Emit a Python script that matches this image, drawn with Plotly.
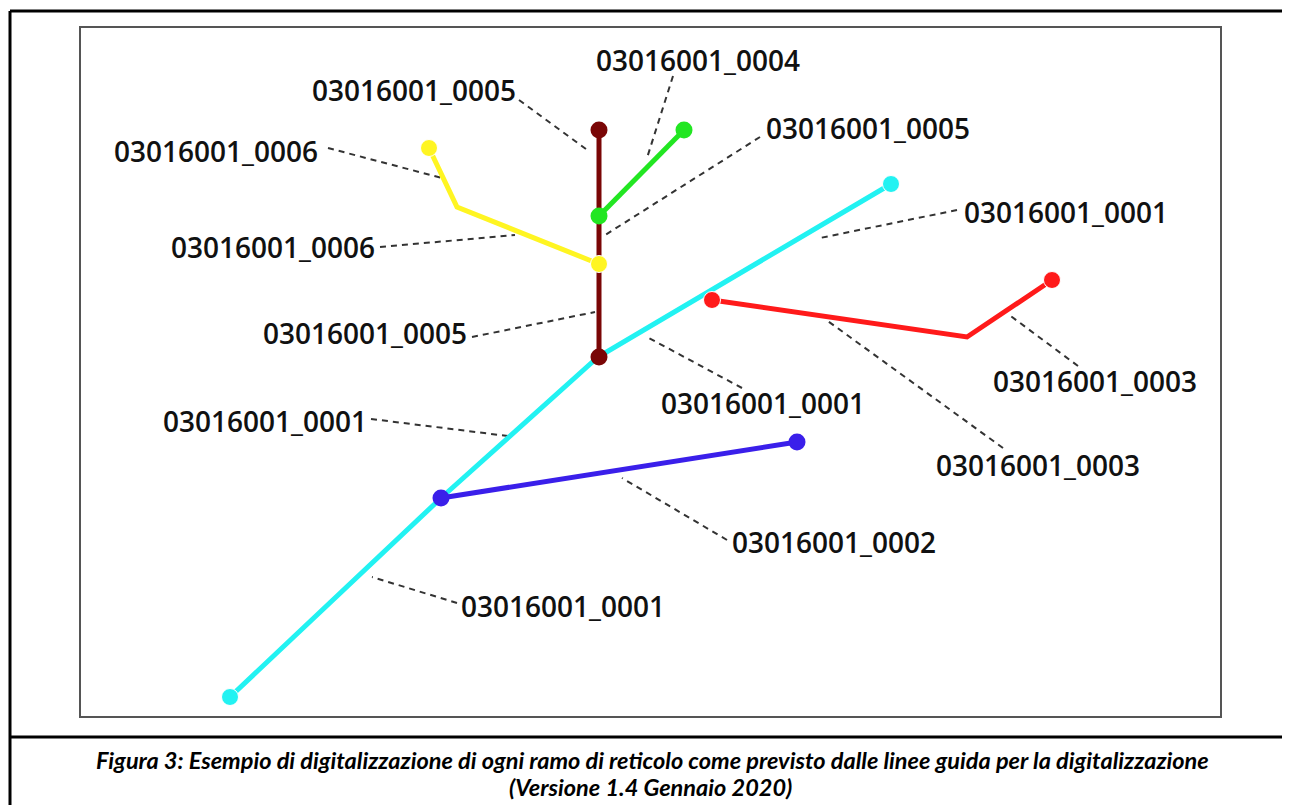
import plotly.graph_objects as go

# ---- branch geometry (pixel-space coordinates) ----
cyan_x = [230, 441, 598, 891]
cyan_y = [697, 498, 357, 184]
cyan_m = [17, 0, 0, 17]

darkred_x = [599, 599]
darkred_y = [357, 130]

green_x = [599, 684]
green_y = [216, 130]

yellow_x = [599, 457, 429]
yellow_y = [264, 207, 148]
yellow_m = [17, 0, 17]

red_x = [712, 967, 1052]
red_y = [300, 337, 280]
red_m = [17, 0, 17]

blue_x = [441, 797]
blue_y = [498, 442]

# ---- labels ----
label_text = ["03016001_0005", "03016001_0004", "03016001_0005", "03016001_0006",
              "03016001_0006", "03016001_0005", "03016001_0001", "03016001_0001",
              "03016001_0003", "03016001_0003", "03016001_0001", "03016001_0002",
              "03016001_0001"]
label_x = [414, 698, 868, 216, 273, 365, 1066, 763, 1095, 1038, 265, 834, 563]
label_y = [90, 60, 128, 151, 247, 333, 212, 403, 381, 465, 421, 542, 606]

# leader lines: start (near label) -> end (on branch)
lead_x0 = [519, 673, 760, 328, 380, 472, 957, 742, 1078, 1003, 371, 727, 457]
lead_y0 = [100, 76, 137, 148, 247, 337, 210, 388, 366, 448, 419, 540, 603]
lead_x1 = [590, 647, 602, 442, 515, 595, 820, 647, 1008, 825, 508, 622, 372]
lead_y1 = [152, 158, 237, 178, 235, 312, 238, 337, 314, 319, 436, 478, 577]

caption_1 = "Figura 3: Esempio di digitalizzazione di ogni ramo di reticolo come previsto dalle linee guida per la digitalizzazione"
caption_2 = "(Versione 1.4 Gennaio 2020)"

fig = go.Figure()

# leader lines
for x0, y0, x1, y1 in zip(lead_x0, lead_y0, lead_x1, lead_y1):
    fig.add_trace(go.Scatter(x=[x0, x1], y=[y0, y1], mode="lines",
                             line=dict(color="#333333", width=2, dash="6px,5px"),
                             hoverinfo="skip", showlegend=False))


def branch(xs, ys, color, sizes=17):
    fig.add_trace(go.Scatter(x=xs, y=ys, mode="lines+markers",
                             line=dict(color=color, width=5),
                             marker=dict(color=color, size=sizes, opacity=1),
                             hoverinfo="skip", showlegend=False))


branch(cyan_x, cyan_y, "#22F2F2", cyan_m)
branch(darkred_x, darkred_y, "#7A0606")
branch(green_x, green_y, "#22E622")
branch(yellow_x, yellow_y, "#FFF522", yellow_m)
branch(red_x, red_y, "#FF1A1A", red_m)
branch(blue_x, blue_y, "#3A1FEA")

for t, x, y in zip(label_text, label_x, label_y):
    fig.add_annotation(x=x, y=y, text=t, showarrow=False, xanchor="center", yanchor="middle",
                       font=dict(family="Open Sans", size=28, color="#111111", weight=600))

fig.add_annotation(x=652, y=760, text="<b><i>" + caption_1 + "</i></b>", showarrow=False,
                   xanchor="center", yanchor="middle",
                   font=dict(family="Lato", size=23.5, color="#000000"))
fig.add_annotation(x=650, y=787, text="<b><i>" + caption_2 + "</i></b>", showarrow=False,
                   xanchor="center", yanchor="middle",
                   font=dict(family="Lato", size=23.5, color="#000000"))

shapes = [
    dict(type="rect", x0=80, y0=27, x1=1221, y1=717, line=dict(color="#555555", width=2), layer="below"),
    dict(type="line", x0=10, y0=11, x1=1300, y1=11, line=dict(color="#000000", width=3)),
    dict(type="line", x0=10, y0=11, x1=10, y1=820, line=dict(color="#000000", width=3)),
    dict(type="line", x0=10, y0=737, x1=1300, y1=737, line=dict(color="#000000", width=3)),
]

# the page body adds an 8 px margin, so the axis ranges start at 8 to keep
# data units equal to screen pixels
OFF = 8
fig.update_layout(width=1290, height=805, margin=dict(l=0, r=0, t=0, b=0),
                  paper_bgcolor="white", plot_bgcolor="white", shapes=shapes,
                  xaxis=dict(range=[OFF, 1290 + OFF], visible=False, fixedrange=True),
                  yaxis=dict(range=[805 + OFF, OFF], visible=False, fixedrange=True))

fig.write_html("out.html")
